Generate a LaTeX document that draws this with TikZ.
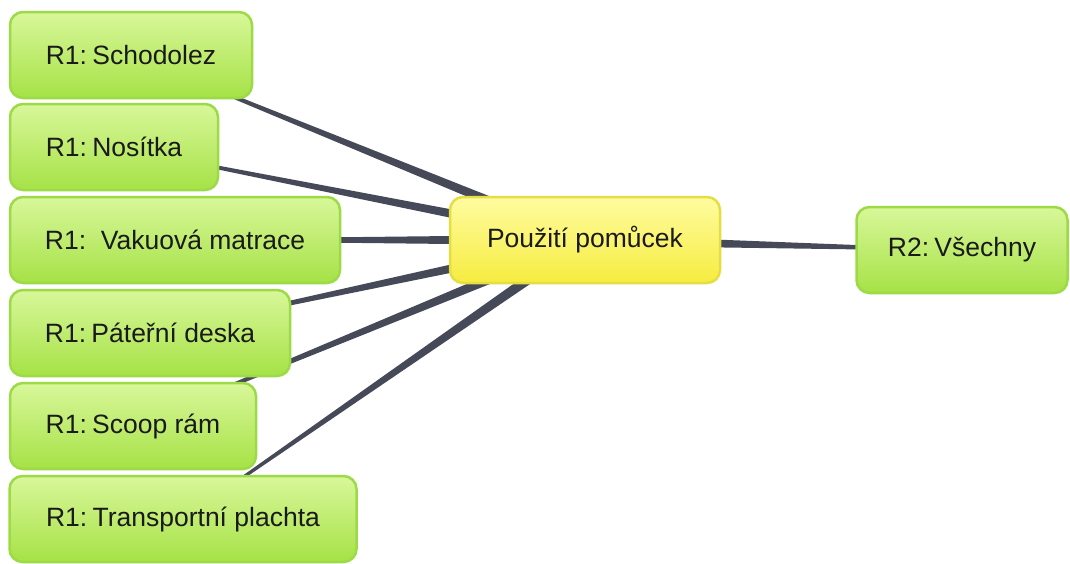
\documentclass[tikz,border=0pt]{standalone}
\usepackage{fontspec}
\setmainfont{Liberation Sans}
\usetikzlibrary{calc,backgrounds}
\definecolor{ink}{HTML}{1A1A1A}
\definecolor{wire}{RGB}{70,74,88}
\definecolor{leafrim}{RGB}{156,218,70}
\definecolor{leaftop}{RGB}{216,247,154}
\definecolor{leafbot}{RGB}{166,226,70}
\definecolor{hubrim}{RGB}{228,222,66}
\definecolor{hubtop}{RGB}{255,252,160}
\definecolor{hubbot}{RGB}{246,236,64}
\tikzset{
  leaf/.style={draw=leafrim,line width=2.5pt,rounded corners=13pt,top color=leaftop,bottom color=leafbot,
    minimum height=86pt,inner sep=0pt,align=center,font=\fontsize{26.5}{31}\selectfont,text=ink},
  hub/.style={leaf,draw=hubrim,top color=hubtop,bottom color=hubbot},
}
% tapered connector: thin at #1, thick at #2
\newcommand{\taper}[2]{%
  \fill[wire] ($(#1)!0.9pt!90:(#2)$) -- ($(#2)!5.5pt!-90:(#1)$)
    -- ($(#2)!5.5pt!90:(#1)$) -- ($(#1)!0.9pt!-90:(#2)$) -- cycle;}
\begin{document}
\begin{tikzpicture}[x=1pt,y=-1pt]
  \useasboundingbox (0,0) rectangle (1070,563);
  % central topic
  \node[hub,minimum width=270pt] (use) at (585,240) {Použití pomůcek};
  % R1 branches
  \node[leaf,minimum width=242pt] (sch) at (131,55) {R1:\hspace{.2em}Schodolez};
  \node[leaf,minimum width=208pt] (nos) at (114,147) {R1:\hspace{.2em}Nosítka};
  \node[leaf,minimum width=330pt] (vak) at (175,240) {R1:\ \ Vakuová matrace};
  \node[leaf,minimum width=280pt] (pat) at (150,333) {R1:\hspace{.2em}Páteřní deska};
  \node[leaf,minimum width=246pt] (sco) at (133,426) {R1:\hspace{.2em}Scoop rám};
  \node[leaf,minimum width=347pt] (tra) at (183,519) {R1:\hspace{.2em}Transportní plachta};
  % R2 branch
  \node[leaf,minimum width=211pt] (all) at (962,250) {R2:\hspace{.2em}Všechny};
  \begin{scope}[on background layer]
    \foreach \n in {sch,nos,vak,pat,sco,tra,all}
      \taper{\n}{use};
  \end{scope}
\end{tikzpicture}
\end{document}
